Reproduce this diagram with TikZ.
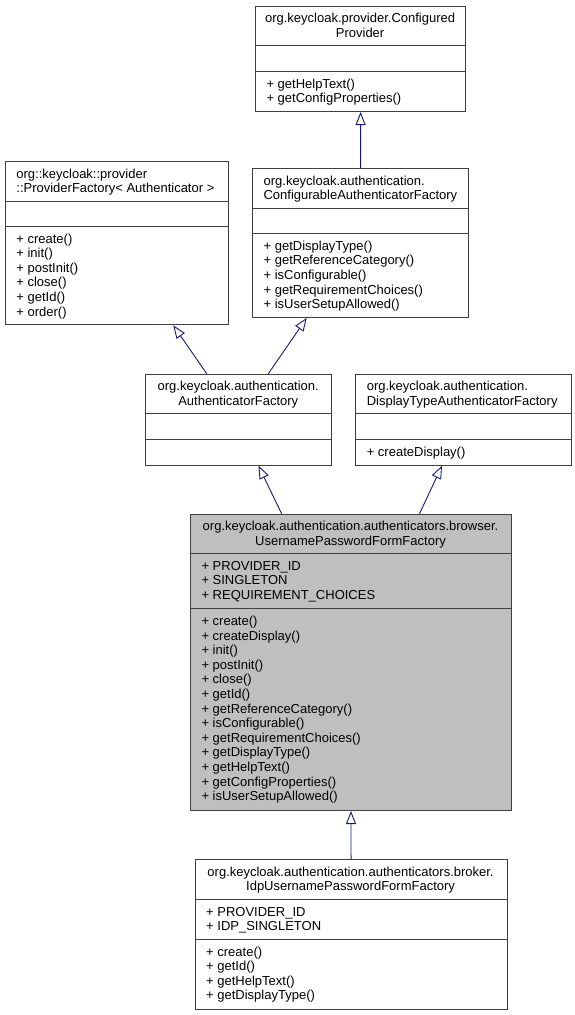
\documentclass[tikz,border=0pt]{standalone}
\usepackage{fontspec}
\setmainfont{Liberation Sans}
\usetikzlibrary{arrows.meta}
\definecolor{edgecol}{HTML}{191970}
\definecolor{framecol}{HTML}{404040}
\definecolor{hlcol}{HTML}{BFBFBF}
\tikzset{
  umlbox/.style={draw=framecol, line width=1pt, inner sep=0pt, anchor=north west, fill=white},
  sepline/.style={draw=framecol, line width=1pt},
  txt/.style={inner sep=0pt, font=\fontsize{13pt}{14.6pt}\selectfont, text=black},
  inh/.style={draw=edgecol, line width=0.9pt, -{Triangle[open, length=13pt, width=10pt]}},
}
\newcommand\txtlines[5]{%
  \foreach \t [count=\i from 0] in {#5} {\node[txt, anchor=#2] (#1\i) at ({#3},{#4+\i*14.6}) {\t};}}
\begin{document}
\begin{tikzpicture}[x=1pt,y=-1pt]
\useasboundingbox (0,0) rectangle (574,1015);
\fill[white] (0,0) rectangle (574,1015);

% ConfiguredProvider
\node[umlbox, minimum width=210.6pt, minimum height=105.3pt] (cp) at (254.8,5.7) {};
\draw[sepline] (254.8,45.7) -- (465.4,45.7);
\draw[sepline] (254.8,71) -- (465.4,71);
\txtlines{cpt}{base}{360.1}{22.7}{org.keycloak.provider.Configured, Provider}
\txtlines{cpm}{base west}{266.3}{88}{+ getHelpText(), + getConfigProperties()}

% ProviderFactory
\node[umlbox, minimum width=222.8pt, minimum height=163.3pt] (pf) at (4.8,161) {};
\draw[sepline] (4.8,201) -- (227.6,201);
\draw[sepline] (4.8,226) -- (227.6,226);
\txtlines{pft}{base west}{16.2}{178}{org::keycloak::provider, ::ProviderFactory< Authenticator >}
\txtlines{pfm}{base west}{16.2}{243}{+ create(), + init(), + postInit(), + close(), + getId(), + order()}

% ConfigurableAuthenticatorFactory
\node[umlbox, minimum width=215.8pt, minimum height=149pt] (caf) at (252.2,168) {};
\draw[sepline] (252.2,208.3) -- (468,208.3);
\draw[sepline] (252.2,233.3) -- (468,233.3);
\txtlines{caft}{base west}{263.4}{185}{org.keycloak.authentication., ConfigurableAuthenticatorFactory}
\txtlines{cafm}{base west}{263.4}{250.3}{+ getDisplayType(), + getReferenceCategory(), + isConfigurable(), + getRequirementChoices(), + isUserSetupAllowed()}

% AuthenticatorFactory
\node[umlbox, minimum width=186.1pt, minimum height=91pt] (af) at (145.2,373.7) {};
\draw[sepline] (145.2,413.7) -- (331.3,413.7);
\draw[sepline] (145.2,439) -- (331.3,439);
\txtlines{aft}{base}{238.25}{390.7}{org.keycloak.authentication., AuthenticatorFactory}

% DisplayTypeAuthenticatorFactory
\node[umlbox, minimum width=215.9pt, minimum height=91pt] (dtaf) at (355.1,373.7) {};
\draw[sepline] (355.1,413.7) -- (571,413.7);
\draw[sepline] (355.1,439) -- (571,439);
\txtlines{dtaft}{base west}{366.6}{390.7}{org.keycloak.authentication., DisplayTypeAuthenticatorFactory}
\txtlines{dtafm}{base west}{366.6}{456}{+ createDisplay()}

% UsernamePasswordFormFactory
\node[umlbox, fill=hlcol, minimum width=321pt, minimum height=296.3pt] (upff) at (190,513.7) {};
\draw[sepline] (190,553.3) -- (511,553.3);
\draw[sepline] (190,608.3) -- (511,608.3);
\txtlines{upfft}{base}{350.5}{530.7}{org.keycloak.authentication.authenticators.browser., UsernamePasswordFormFactory}
\txtlines{upffa}{base west}{201.3}{570.3}{+ PROVIDER\_ID, + SINGLETON, + REQUIREMENT\_CHOICES}
\txtlines{upffm}{base west}{201.3}{625.5}{+ create(), + createDisplay(), + init(), + postInit(), + close(), + getId(), + getReferenceCategory(), + isConfigurable(), + getRequirementChoices(), + getDisplayType(), + getHelpText(), + getConfigProperties(), + isUserSetupAllowed()}

% IdpUsernamePasswordFormFactory
\node[umlbox, minimum width=312.1pt, minimum height=150pt] (iupff) at (194.5,859) {};
\draw[sepline] (194.5,899) -- (506.6,899);
\draw[sepline] (194.5,939) -- (506.6,939);
\txtlines{iupfft}{base}{350.55}{876}{org.keycloak.authentication.authenticators.broker., IdpUsernamePasswordFormFactory}
\txtlines{iupffa}{base west}{206}{916}{+ PROVIDER\_ID, + IDP\_SINGLETON}
\txtlines{iupffm}{base west}{206}{956}{+ create(), + getId(), + getHelpText(), + getDisplayType()}

% inheritance connectors
\draw[inh] (caf.north) -- (cp.south);
\draw[inh] ([xshift=61.5pt]af.north west) -- ([xshift=168.5pt]pf.south west);
\draw[inh] ([xshift=123.1pt]af.north west) -- ([xshift=54.5pt]caf.south west);
\draw[inh] ([xshift=91.6pt]upff.north west) -- ([xshift=113.3pt]af.south west);
\draw[inh] ([xshift=229.5pt]upff.north west) -- ([xshift=86.9pt]dtaf.south west);
\draw[inh] (iupff.north) -- (upff.south);
\end{tikzpicture}
\end{document}
